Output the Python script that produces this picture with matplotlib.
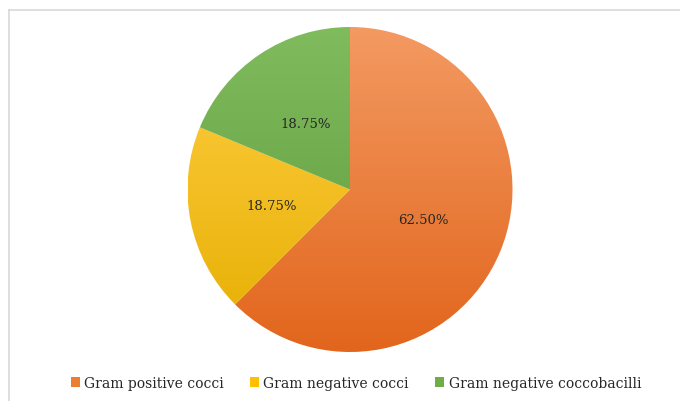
import matplotlib.pyplot as plt
import numpy as np
from matplotlib.colors import LinearSegmentedColormap
from matplotlib.patches import Patch
from matplotlib.lines import Line2D

# Data
categories = ['Gram positive cocci', 'Gram negative cocci', 'Gram negative coccobacilli']
shares = [62.50, 18.75, 18.75]
pct_labels = ['62.50%', '18.75%', '18.75%']
# (top colour, bottom colour) of each slice's gradient
grad_colors = [('#F39A62', '#E2651C'), ('#FFCF45', '#E6AE00'), ('#80BC5E', '#5C9939')]
legend_colors = ['#ED7D31', '#FFC000', '#70AD47']

plt.rcParams['font.family'] = ['DejaVu Serif']

fig = plt.figure(figsize=(6.8, 4.02), dpi=100)

# light grey frame around the chart area
fig.add_artist(Line2D([9 / 680, 9 / 680], [0, 1 - 11 / 402], transform=fig.transFigure,
                      color='#D9D9D9', linewidth=1.2))
fig.add_artist(Line2D([9 / 680, 1], [1 - 11 / 402, 1 - 11 / 402], transform=fig.transFigure,
                      color='#D9D9D9', linewidth=1.2))

cx, cy, r = 350, 402 - 190.5, 162.5
ax = fig.add_axes([(cx - r) / 680, (cy - r) / 402, 2 * r / 680, 2 * r / 402])

wedges, texts, autotexts = ax.pie(shares, startangle=90, counterclock=False, radius=1,
                                  autopct='%.2f%%', pctdistance=0.49,
                                  colors=legend_colors,
                                  wedgeprops=dict(linewidth=0),
                                  textprops=dict(fontsize=9.5, color='#262626'))
for t, lab in zip(autotexts, pct_labels):
    t.set_text(lab)

# vertical gradient fill for each slice
grad = np.linspace(0, 1, 256).reshape(-1, 1)
for w, (top, bot) in zip(wedges, grad_colors):
    cmap = LinearSegmentedColormap.from_list('g', [top, bot])
    w.set_facecolor('none')
    im = ax.imshow(grad, cmap=cmap, extent=[-1, 1, -1, 1], origin='upper',
                   aspect='auto', zorder=w.get_zorder() - 0.1)
    im.set_clip_path(w)
for t in autotexts:
    t.set_zorder(5)

ax.set_xlim(-1, 1)
ax.set_ylim(-1, 1)
ax.set_aspect('equal')
ax.axis('off')

handles = [Patch(facecolor=c, edgecolor='none') for c in legend_colors]
fig.legend(handles, categories, loc='center', bbox_to_anchor=(356 / 680, 1 - 384 / 402),
           ncol=3, frameon=False, fontsize=10, handlelength=0.65, handleheight=0.65,
           handletextpad=0.3, columnspacing=1.9, labelcolor='#262626')

fig.savefig('out.png', dpi=100)
